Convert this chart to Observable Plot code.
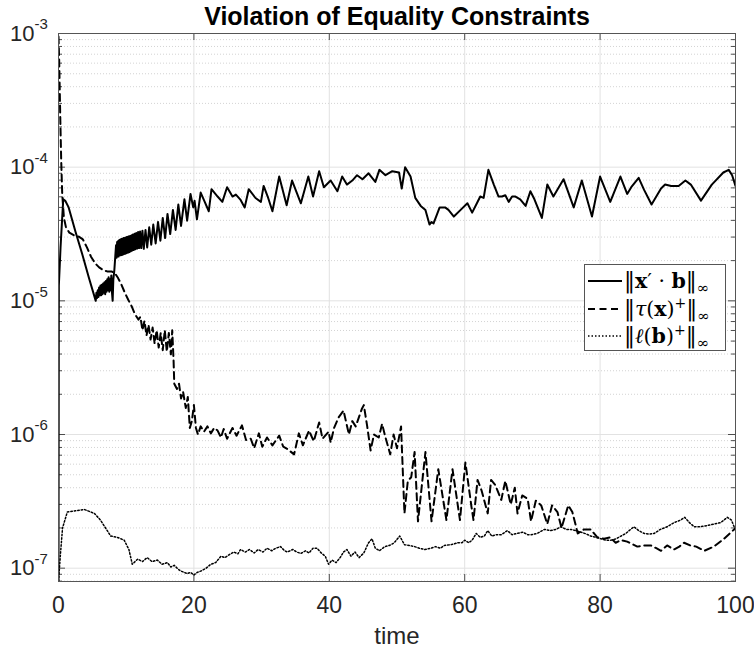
<!DOCTYPE html>
<html>
<head>
<meta charset="utf-8">
<script src="https://cdn.jsdelivr.net/npm/d3@7"></script>
<script src="https://cdn.jsdelivr.net/npm/@observablehq/plot@0.6"></script>
<style>
  html, body { margin: 0; padding: 0; background: #fff; }
  #wrap { position: relative; width: 754px; height: 650px; }
  #legend {
    position: absolute; left: 584px; top: 264px; width: 140px; height: 85px;
    border: 1px solid #555; background: #fff;
    font-family: "DejaVu Serif", "Liberation Serif", serif; color: #000;
  }
  #legend .row { position: absolute; left: 0; height: 26px; width: 140px; }
  #legend svg { position: absolute; left: 2px; top: 0; }
  #legend .lab { position: absolute; left: 39px; top: 0; font-size: 20.5px; line-height: 26px; white-space: nowrap; }
  #legend b { font-weight: bold; }
  #legend sub { font-size: 15px; vertical-align: -5px; line-height: 0; }
  #legend sup { font-size: 14px; vertical-align: 8px; line-height: 0; }
  #legend .bar { font-size: 22px; }
</style>
</head>
<body>
<div id="wrap"></div>
<script>
// ---------- data ----------
const titleText = "Violation of Equality Constraints";
const xLabelText = "time";
const xTicks = [0, 20, 40, 60, 80, 100];
const xGrid = [20, 40, 60, 80];
const yExps = [-7, -6, -5, -4, -3];
const yExpLabels = ["-7", "-6", "-5", "-4", "-3"];
const seriesNames = ["||x'·b||∞", "||τ(x)+||∞", "||ℓ(b)+||∞"];

// ||x'·b||_inf (solid)
const solidT = [0,0.05,0.3,0.7,1.0,1.5,2.5,3.5,4.5,5.5,
  5.6,5.7,5.8,5.9,6.0,6.1,6.2,6.3,6.4,6.5,6.6,6.7,6.8,6.9,7.0,7.1,7.2,7.3,7.4,7.5,7.6,7.7,7.8,7.9,8.0,
  8.1,8.25,8.4,
  8.5,8.58,8.66,8.74,8.82,8.9,8.98,9.06,9.14,9.22,9.3,9.38,9.46,9.54,9.62,9.7,9.78,9.86,9.94,10.02,10.1,10.18,10.26,10.34,10.42,10.5,
  10.6,10.7,10.8,10.9,11.0,11.12,11.24,11.36,11.48,11.62,11.76,11.9,12.05,12.22,12.4,12.6,12.85,
  13.1,13.4,13.7,14.0,14.35,14.7,15.05,15.4,15.75,16.1,16.5,16.9,17.3,17.7,18.1,18.6,19.0,19.5,
  19.9,20.1,20.45,21.0,21.6,22.2,22.6,23.5,24.2,24.9,25.7,26.2,26.9,27.5,28.1,29.1,29.9,30.3,30.9,31.6,32.6,33.7,34.5,35.8,36.9,37.6,38.5,39.2,40.2,41.2,41.9,42.6,43.4,44.1,44.9,45.8,46.8,47.4,48.3,49.3,50.3,50.7,51.2,52.0,52.7,53.5,54.2,54.8,55.1,55.4,56.3,57.1,57.6,58.4,59.4,60.4,61.1,61.8,62.3,62.8,63.5,64.3,65.0,65.5,66.0,66.5,67.0,67.5,68.2,69.0,69.7,70.3,71.4,72.2,73.1,74.6,76.1,77.3,78.8,80.0,81.5,83.0,84.0,84.6,85.7,86.5,87.6,89.0,89.6,90.5,91.6,92.6,93.4,94.9,96.5,98.2,99.0,99.5,100];
const solidV = [8e-8,1.3e-5,2.5e-5,5.75e-5,5.6e-5,5.0e-5,3.3e-5,2.24e-5,1.48e-5,1.0e-5,
  1.15e-5,1.05e-5,1.2e-5,1.07e-5,1.26e-5,1.1e-5,1.3e-5,1.1e-5,1.32e-5,1.12e-5,1.35e-5,1.15e-5,1.38e-5,1.12e-5,1.41e-5,1.17e-5,1.45e-5,1.2e-5,1.5e-5,1.17e-5,1.45e-5,1.2e-5,1.55e-5,1.15e-5,1.0e-5,
  1.45e-5,1.7e-5,2.2e-5,
  2.6e-5,2.1e-5,2.75e-5,2.15e-5,2.8e-5,2.15e-5,2.85e-5,2.19e-5,2.88e-5,2.19e-5,2.9e-5,2.2e-5,2.92e-5,2.22e-5,2.95e-5,2.24e-5,2.95e-5,2.25e-5,2.98e-5,2.27e-5,3.0e-5,2.29e-5,3.02e-5,2.3e-5,3.04e-5,2.32e-5,
  3.06e-5,2.35e-5,3.1e-5,2.38e-5,3.14e-5,2.4e-5,3.18e-5,2.43e-5,3.22e-5,2.46e-5,3.28e-5,2.48e-5,3.3e-5,2.48e-5,3.35e-5,2.45e-5,3.39e-5,
  2.51e-5,3.55e-5,2.63e-5,3.72e-5,2.69e-5,3.89e-5,2.82e-5,4.17e-5,2.95e-5,4.47e-5,3.16e-5,4.79e-5,3.39e-5,5.25e-5,3.63e-5,5.75e-5,3.98e-5,6.3e-5,
  5.0e-5,5.6e-5,4.07e-5,6.46e-5,5.5e-5,4.68e-5,6.84e-5,6.03e-5,5.5e-5,7.08e-5,6.03e-5,6.24e-5,5.69e-5,5.0e-5,6.84e-5,5.88e-5,5.5e-5,7.24e-5,6.03e-5,4.68e-5,8.51e-5,5.19e-5,7.94e-5,5.37e-5,8.51e-5,6.03e-5,9.33e-5,7.08e-5,7.94e-5,6.61e-5,8.51e-5,7.41e-5,7.94e-5,8.71e-5,8.13e-5,9.0e-5,7.76e-5,9.55e-5,8.71e-5,9.33e-5,9.12e-5,6.92e-5,1.0e-4,8.51e-5,5.89e-5,5.13e-5,4.79e-5,3.72e-5,3.89e-5,3.8e-5,5.0e-5,5.0e-5,4.79e-5,4.27e-5,4.79e-5,5.37e-5,4.57e-5,5.37e-5,6.03e-5,5.89e-5,9.55e-5,7.41e-5,6.03e-5,6.03e-5,6.17e-5,5.5e-5,6.03e-5,6.03e-5,5.75e-5,5.13e-5,6.61e-5,5.75e-5,4.17e-5,7.41e-5,6.03e-5,8.13e-5,5.0e-5,7.94e-5,4.27e-5,8.51e-5,5.5e-5,8.51e-5,6.31e-5,7.08e-5,8.32e-5,6.76e-5,5.25e-5,6.92e-5,7.41e-5,7.24e-5,7.24e-5,7.94e-5,7.41e-5,5.62e-5,7.41e-5,9.12e-5,9.55e-5,8.71e-5,7.24e-5];

// ||tau(x)+||_inf (dashed)
const dashT = [0,0.1,0.25,0.4,0.55,0.8,1.1,1.6,2.3,3.0,3.6,4.2,4.8,5.4,6.0,6.6,7.2,7.8,8.3,8.8,9.3,9.8,10.3,10.8,11.3,11.8,12.1,12.4,12.7,13.0,13.3,13.6,13.9,14.2,14.5,14.8,15.1,15.4,15.7,16.0,16.3,16.6,16.8,17.0,17.1,17.5,17.8,18.1,18.4,18.8,19.1,19.4,19.7,20.0,20.3,20.6,21.0,21.5,22.0,22.5,23.0,23.5,24.0,24.4,24.9,25.7,26.3,27.1,27.7,28.4,28.9,29.6,30.1,30.8,31.6,32.6,33.2,33.8,34.8,35.5,36.1,37.0,37.7,38.5,39.0,39.9,40.2,40.7,41.4,42.1,42.9,43.4,43.9,44.8,45.1,45.6,46.1,46.6,47.3,47.8,48.3,49.0,49.5,50.0,50.6,51.1,51.6,52.1,52.6,53.1,54.2,55.1,56.1,57.3,58.2,59.3,60.1,61.0,61.3,61.9,62.5,63.4,63.9,64.5,65.4,66.0,66.8,67.4,67.8,68.5,69.3,69.8,70.5,71.3,72.2,72.9,73.7,74.3,75.3,75.9,76.7,77.6,78.6,79.6,80.6,81.5,82.3,83.1,84.0,85.5,86.5,87.5,88.3,89.0,89.9,90.9,91.7,92.4,93.3,94.2,95.4,96.8,98.3,99.8,100];
const dashV = [9.5e-4,6.3e-4,2.5e-4,1.12e-4,6.3e-5,4.17e-5,3.55e-5,3.24e-5,3.09e-5,3.02e-5,2.88e-5,2.51e-5,2.14e-5,1.91e-5,1.78e-5,1.7e-5,1.66e-5,1.66e-5,1.62e-5,1.48e-5,1.32e-5,1.15e-5,1.02e-5,9.12e-6,7.94e-6,7.24e-6,7.59e-6,6.03e-6,7.08e-6,5.5e-6,6.61e-6,5.13e-6,6.31e-6,4.79e-6,6.03e-6,4.47e-6,5.75e-6,4.27e-6,6.03e-6,4.17e-6,5.75e-6,3.98e-6,6.03e-6,3.55e-6,2.4e-6,2.19e-6,2.4e-6,1.86e-6,2.09e-6,1.58e-6,1.91e-6,1.12e-6,1.26e-6,1.66e-6,1.12e-6,1.0e-6,1.15e-6,1.05e-6,1.15e-6,1.02e-6,1.12e-6,1.07e-6,0.95e-6,1.1e-6,0.93e-6,1.12e-6,0.98e-6,1.17e-6,0.91e-6,0.93e-6,0.79e-6,1.02e-6,0.81e-6,0.95e-6,0.83e-6,0.98e-6,0.81e-6,0.78e-6,0.71e-6,1.02e-6,0.83e-6,1.07e-6,0.89e-6,1.23e-6,0.93e-6,1.05e-6,0.87e-6,1.12e-6,1.35e-6,1.51e-6,1.0e-6,1.26e-6,1.15e-6,1.55e-6,1.66e-6,1.15e-6,0.76e-6,1.0e-6,0.95e-6,1.2e-6,0.95e-6,0.71e-6,1.0e-6,0.79e-6,1.15e-6,2.57e-7,4.5e-7,4.79e-7,7.4e-7,2.24e-7,7.4e-7,2.24e-7,5.5e-7,2.29e-7,5.5e-7,2.29e-7,6.17e-7,2.88e-7,2.29e-7,4.57e-7,3.8e-7,2.57e-7,4.57e-7,4.2e-7,3.24e-7,4.5e-7,3.0e-7,4.0e-7,2.57e-7,3.5e-7,3.3e-7,2.24e-7,3.2e-7,2.95e-7,2.14e-7,2.95e-7,2.63e-7,2.0e-7,2.95e-7,2.63e-7,1.82e-7,1.95e-7,1.95e-7,1.7e-7,1.66e-7,1.7e-7,1.55e-7,1.62e-7,1.58e-7,1.45e-7,1.48e-7,1.48e-7,1.41e-7,1.35e-7,1.48e-7,1.38e-7,1.45e-7,1.55e-7,1.48e-7,1.45e-7,1.35e-7,1.45e-7,1.66e-7,1.95e-7,2.0e-7];

// ||l(b)+||_inf (dotted)
const dotT = [0,0.3,0.6,1.3,2.5,3.8,5.3,6.2,7.2,7.7,8.7,9.7,10.4,10.9,11.7,12.4,13.1,13.8,14.6,15.3,16.1,16.6,17.1,17.7,18.1,18.6,19.0,19.5,20.0,20.5,21.0,21.8,22.5,23.2,24.0,24.6,25.2,25.9,26.5,26.9,27.6,28.2,28.9,29.5,30.2,30.8,31.5,32.1,32.8,33.4,33.8,34.6,35.2,35.8,36.5,37.0,37.6,38.2,38.8,39.4,39.9,40.4,41.0,41.6,42.1,42.6,43.2,43.8,44.4,45.1,45.8,46.3,46.8,47.4,48.2,48.9,49.6,50.4,51.1,51.8,52.6,53.3,54.1,55.0,55.7,56.4,57.0,58.0,59.0,59.6,60.0,60.6,61.1,61.7,62.3,62.9,63.4,64.0,64.6,65.4,66.3,67.0,67.7,68.6,69.3,69.8,70.7,71.8,72.7,73.5,74.2,75.0,75.7,76.4,77.2,78.0,78.6,79.4,80.1,80.8,81.6,82.4,83.1,83.8,84.5,85.0,85.7,86.5,87.3,88.0,88.9,89.9,90.9,91.9,92.5,93.2,93.9,94.8,95.9,96.8,97.8,98.8,99.4,99.8,100];
const dotV = [8e-8,1.3e-7,2.0e-7,2.63e-7,2.69e-7,2.75e-7,2.57e-7,2.29e-7,1.91e-7,1.74e-7,1.7e-7,1.62e-7,1.38e-7,1.07e-7,1.17e-7,1.12e-7,1.2e-7,1.12e-7,1.15e-7,1.07e-7,1.1e-7,1.02e-7,1.05e-7,0.98e-7,0.95e-7,0.93e-7,0.91e-7,0.93e-7,0.89e-7,0.93e-7,0.95e-7,1.0e-7,1.07e-7,1.1e-7,1.23e-7,1.2e-7,1.26e-7,1.32e-7,1.28e-7,1.38e-7,1.32e-7,1.38e-7,1.3e-7,1.38e-7,1.32e-7,1.41e-7,1.35e-7,1.41e-7,1.45e-7,1.35e-7,1.32e-7,1.38e-7,1.32e-7,1.29e-7,1.35e-7,1.3e-7,1.41e-7,1.41e-7,1.3e-7,1.23e-7,1.07e-7,1.15e-7,1.1e-7,1.2e-7,1.32e-7,1.38e-7,1.23e-7,1.32e-7,1.2e-7,1.3e-7,1.55e-7,1.66e-7,1.41e-7,1.35e-7,1.45e-7,1.48e-7,1.55e-7,1.74e-7,1.5e-7,1.48e-7,1.45e-7,1.41e-7,1.38e-7,1.41e-7,1.45e-7,1.41e-7,1.48e-7,1.5e-7,1.55e-7,1.55e-7,1.62e-7,1.55e-7,1.62e-7,1.82e-7,1.7e-7,1.74e-7,1.91e-7,1.74e-7,1.78e-7,1.78e-7,1.91e-7,1.78e-7,1.82e-7,1.86e-7,1.78e-7,1.78e-7,1.82e-7,1.95e-7,1.91e-7,1.95e-7,2.04e-7,1.95e-7,1.95e-7,1.91e-7,1.86e-7,1.8e-7,1.74e-7,1.7e-7,1.66e-7,1.62e-7,1.62e-7,1.66e-7,1.74e-7,1.82e-7,1.95e-7,2.04e-7,1.91e-7,1.82e-7,1.8e-7,1.82e-7,1.95e-7,2.04e-7,2.19e-7,2.29e-7,2.4e-7,2.19e-7,2.04e-7,2.04e-7,2.09e-7,2.14e-7,2.19e-7,2.4e-7,2.29e-7,2.04e-7,1.95e-7];

// ---------- build ----------
const toRows = (ts, vs) => ts.map((t, i) => ({t, v: vs[i]})).filter(d => d.v !== undefined);
const solid = toRows(solidT, solidV);
const dashed = toRows(dashT, dashV);
const dotted = toRows(dotT, dotV);

const yMajor = yExps.map(e => Math.pow(10, e));
const yMinor = [];
for (let e = -8; e <= -4; e++) for (let m = 2; m <= 9; m++) {
  const v = m * Math.pow(10, e);
  if (v > 7.95e-8 && v < 1e-3) yMinor.push(v);
}

const W = 754, H = 650, ML = 58, MR = 19, MT = 33, MB = 69;
const FW = W - ML - MR, FH = H - MT - MB;
const axisColor = "#262626";

const chart = Plot.plot({
  width: W, height: H,
  marginLeft: ML, marginRight: MR, marginTop: MT, marginBottom: MB,
  x: {domain: [0, 100], axis: null},
  y: {type: "log", domain: [7.95e-8, 1e-3], axis: null},
  style: {background: "#fff", fontFamily: "'Liberation Sans', Arial, Helvetica, sans-serif", overflow: "visible"},
  marks: [
    // grid
    Plot.ruleY(yMinor, {stroke: "#c8c8c8", strokeWidth: 0.8, strokeDasharray: "1,2"}),
    Plot.ruleY(yMajor, {stroke: "#e2e2e2", strokeWidth: 1}),
    Plot.ruleX(xGrid, {stroke: "#e2e2e2", strokeWidth: 1}),
    // inward ticks
    Plot.tickY(yMajor, {y: d => d, insetRight: FW - 7, stroke: axisColor, strokeWidth: 0.8}),
    Plot.tickY(yMajor, {y: d => d, insetLeft: FW - 7, stroke: axisColor, strokeWidth: 0.8}),
    Plot.tickY(yMinor, {y: d => d, insetRight: FW - 4, stroke: axisColor, strokeWidth: 0.8}),
    Plot.tickY(yMinor, {y: d => d, insetLeft: FW - 4, stroke: axisColor, strokeWidth: 0.8}),
    Plot.tickX(xTicks, {x: d => d, insetTop: FH - 7, stroke: axisColor, strokeWidth: 0.8}),
    Plot.tickX(xTicks, {x: d => d, insetBottom: FH - 7, stroke: axisColor, strokeWidth: 0.8}),
    // series
    Plot.line(dotted, {x: "t", y: "v", stroke: "#000", strokeWidth: 1.5, strokeDasharray: "1.5,2", clip: true}),
    Plot.line(dashed, {x: "t", y: "v", stroke: "#000", strokeWidth: 2, strokeDasharray: "7,4.5", clip: true}),
    Plot.line(solid, {x: "t", y: "v", stroke: "#000", strokeWidth: 2, strokeLinejoin: "round", clip: true}),
    Plot.frame({stroke: "#555", strokeWidth: 1}),
    // tick labels
    Plot.text(xTicks, {x: d => d, frameAnchor: "bottom", lineAnchor: "middle", dy: 24, text: d => String(d), fontSize: 23, fill: axisColor}),
    Plot.text(yExps, {y: e => Math.pow(10, e), frameAnchor: "left", lineAnchor: "middle", dx: -24, textAnchor: "end", text: () => "10", fontSize: 22, fill: axisColor}),
    Plot.text(yExps, {y: e => Math.pow(10, e), frameAnchor: "left", lineAnchor: "middle", dx: -24, dy: -9, textAnchor: "start", text: (e, i) => yExpLabels[i], fontSize: 15, fill: axisColor}),
    // axis label and title
    Plot.text([xLabelText], {frameAnchor: "bottom", lineAnchor: "middle", dy: 55, text: d => d, fontSize: 24, fill: axisColor}),
    Plot.text([titleText], {frameAnchor: "top", lineAnchor: "middle", dy: -17, text: d => d, fontSize: 25, fontWeight: "bold", fill: "#000"})
  ]
});

const wrap = document.getElementById("wrap");
wrap.appendChild(chart);

// legend (HTML overlay)
const legendSpecs = [
  {dash: null, w: 2, html: '<span class="bar">‖</span><b>x</b>′ · <b>b</b><span class="bar">‖</span><sub>∞</sub>'},
  {dash: "7,4.5", w: 2, html: '<span class="bar">‖</span><i>τ</i>(<b>x</b>)<sup>+</sup><span class="bar">‖</span><sub>∞</sub>'},
  {dash: "1.5,2", w: 1.5, html: '<span class="bar">‖</span><i>ℓ</i>(<b>b</b>)<sup>+</sup><span class="bar">‖</span><sub>∞</sub>'}
];
const leg = document.createElement("div");
leg.id = "legend";
legendSpecs.forEach((s, i) => {
  const row = document.createElement("div");
  row.className = "row";
  row.style.top = (3 + i * 27.5) + "px";
  row.title = seriesNames[i];
  row.innerHTML =
    `<svg width="36" height="26"><line x1="1" y1="13" x2="35" y2="13" stroke="#000" stroke-width="${s.w}"${s.dash ? ` stroke-dasharray="${s.dash}"` : ""}/></svg>` +
    `<span class="lab">${s.html}</span>`;
  leg.appendChild(row);
});
wrap.appendChild(leg);
</script>
</body>
</html>
